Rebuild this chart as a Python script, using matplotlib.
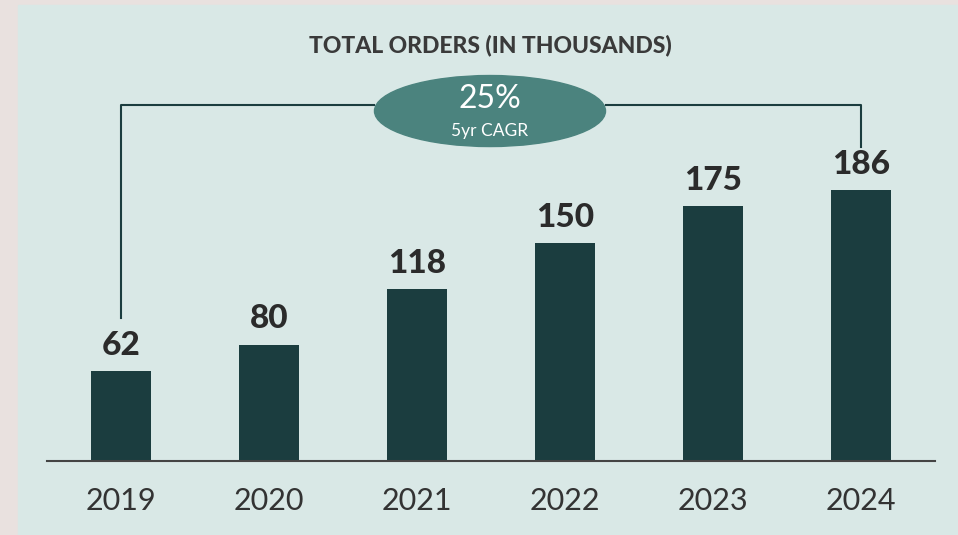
import matplotlib.pyplot as plt
from matplotlib.patches import Ellipse, Rectangle

years = ["2019", "2020", "2021", "2022", "2023", "2024"]
orders = [62, 80, 118, 150, 175, 186]
cagr_text = "25%"
cagr_label = "5yr CAGR"
title = "TOTAL ORDERS (IN THOUSANDS)"

bar_color = "#1b3d3f"
oval_color = "#4b837e"
panel_color = "#d9e8e6"
outer_color = "#e9e1df"
text_color = "#2b2b2b"

fig = plt.figure(figsize=(9.58, 5.35), dpi=100, facecolor=outer_color)
ax = fig.add_axes([0, 0, 1, 1])
ax.set_facecolor("none")

# axis limits chosen so bars land where they sit in the original layout
ax.set_xlim(-0.8176, 5.655)
ax.set_ylim(-50.86, 316.8)
ax.axis("off")

# light panel behind the chart
ax.add_patch(Rectangle((18 / 958, 0), 1 - 18 / 958, 1 - 5 / 535,
                       transform=ax.transAxes, color=panel_color, zorder=0))

x = list(range(len(years)))
ax.bar(x, orders, width=0.4, color=bar_color, zorder=2)
ax.plot([-0.5, 5.5], [0, 0], color="#444444", lw=1.5, zorder=3)

for xi, v in zip(x, orders):
    ax.annotate(str(v), (xi, v), xytext=(0, 8), textcoords="offset points",
                ha="center", va="bottom", fontsize=24, fontweight="black",
                family="Lato", color=text_color)

for xi, yr in zip(x, years):
    ax.text(xi, -27.5, yr, ha="center", va="center", fontsize=22,
            family="Lato", color="#333333")

ax.text(0.5115, 1 - 45 / 535, title, transform=ax.transAxes, ha="center",
        va="center", fontsize=16.5, fontweight="black", family="Lato",
        color="#3a3a3a")

# CAGR bracket
line_y = 244.7
oval_x, oval_y = 2.493, 240.5
oval_w, oval_h = 1.561, 48.8
ax.plot([0, 0, oval_x - oval_w / 2], [orders[0] + 36, line_y, line_y],
        color=bar_color, lw=1.5, zorder=1)
ax.plot([oval_x + oval_w / 2, 5, 5], [line_y, line_y, orders[-1] + 30],
        color=bar_color, lw=1.5, zorder=1)
ax.add_patch(Ellipse((oval_x, oval_y), oval_w, oval_h, color=oval_color, zorder=2))
ax.text(oval_x, oval_y + 8.5, cagr_text, ha="center", va="center", fontsize=23,
        family="Lato", color="white", zorder=3)
ax.text(oval_x, oval_y - 13.5, cagr_label, ha="center", va="center", fontsize=12.5,
        family="Lato", color="white", zorder=3)

fig.savefig("out.png", dpi=100, facecolor=outer_color)
